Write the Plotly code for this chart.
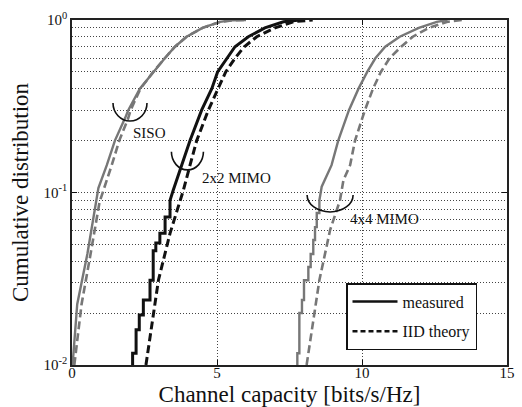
import math
import plotly.graph_objects as go

# ---------------- data ----------------
siso_meas_x = [0.02, 0.18, 0.53, 0.82, 0.91, 1.20, 1.48, 1.83, 1.94, 2.34, 2.80, 3.20, 3.55, 3.95, 4.50, 5.10, 5.50, 6.00]
siso_meas_y = [0.010, 0.0225, 0.044, 0.088, 0.106, 0.144, 0.200, 0.27, 0.30, 0.40, 0.50, 0.60, 0.70, 0.80, 0.90, 0.975, 0.995, 1.0]

siso_iid_x = [0.08, 0.33, 0.64, 0.95, 1.37, 1.63, 1.94, 2.02, 2.36, 2.80, 3.20, 3.55, 3.95, 4.50, 5.10, 5.50, 6.00]
siso_iid_y = [0.010, 0.0225, 0.044, 0.088, 0.144, 0.200, 0.27, 0.30, 0.40, 0.50, 0.60, 0.70, 0.80, 0.90, 0.975, 0.995, 1.0]

mimo2_meas_x = [2.09, 2.09, 2.21, 2.21, 2.32, 2.32, 2.46, 2.46, 2.69, 2.69, 2.80, 2.80, 2.89, 2.89,
                3.03, 3.03, 3.21, 3.21, 3.38, 3.38, 3.49, 3.78, 4.07, 4.47, 4.82, 5.02, 5.33, 5.62,
                6.08, 6.65, 7.29, 7.86]
mimo2_meas_y = [0.010, 0.0117, 0.0117, 0.016, 0.016, 0.0195, 0.0195, 0.0238, 0.0238, 0.031, 0.031, 0.046,
                0.046, 0.051, 0.051, 0.058, 0.058, 0.072, 0.072, 0.090, 0.103, 0.144, 0.200, 0.30, 0.40,
                0.50, 0.60, 0.70, 0.80, 0.90, 0.977, 1.0]

mimo2_iid_x = [2.55, 2.98, 3.38, 3.75, 3.84, 4.07, 4.30, 4.70, 5.04, 5.30, 5.62, 5.94, 6.37, 7.00, 7.63, 8.30]
mimo2_iid_y = [0.010, 0.031, 0.058, 0.090, 0.103, 0.144, 0.200, 0.30, 0.40, 0.50, 0.60, 0.70, 0.80, 0.90, 0.977, 1.0]

mimo4_meas_x = [7.77, 7.77, 7.84, 7.84, 7.93, 7.93, 8.00, 8.00, 8.15, 8.15, 8.23, 8.23, 8.32, 8.32,
                8.38, 8.38, 8.44, 8.44, 8.53, 8.53, 8.61, 8.72, 8.95, 9.18, 9.55, 9.88, 10.18, 10.46,
                10.80, 11.30, 11.96, 12.58, 12.95]
mimo4_meas_y = [0.010, 0.0117, 0.0117, 0.020, 0.020, 0.0238, 0.0238, 0.031, 0.031, 0.037, 0.037, 0.044,
                0.044, 0.053, 0.053, 0.063, 0.063, 0.076, 0.076, 0.090, 0.108, 0.118, 0.144, 0.200,
                0.30, 0.40, 0.50, 0.60, 0.70, 0.80, 0.90, 0.975, 1.0]

mimo4_iid_x = [8.09, 8.53, 8.90, 9.24, 9.36, 9.59, 9.76, 10.10, 10.38, 10.65, 10.95, 11.35, 11.75, 12.30, 12.92, 13.45]
mimo4_iid_y = [0.010, 0.031, 0.0606, 0.090, 0.118, 0.144, 0.200, 0.30, 0.40, 0.50, 0.60, 0.70, 0.80, 0.90, 0.975, 1.0]

x_ticks = [0, 5, 10, 15]
y_ticks = [0.01, 0.1, 1]
y_tick_text = ["10<sup>-2</sup>", "10<sup>-1</sup>", "10<sup>0</sup>"]
y_minor = [m * d for d in (0.01, 0.1) for m in range(2, 10)]

# callouts: label, arc centre x (data), arc top y (data), arc half width px, depth px, label x, label y
callout_labels = ["SISO", "2x2 MIMO", "4x4 MIMO"]
callout_cx = [2.0, 3.98, 8.9]
callout_top = [0.33, 0.172, 0.0968]
callout_hw = [17, 16, 23]
callout_depth = [18, 18, 17]
callout_lx = [2.66, 5.66, 10.76]
callout_ly = [0.221, 0.121, 0.0702]

# ---------------- figure ----------------
W, H = 522, 407
ML, MR, MT, MB = 72, 15, 20, 42
PW, PH = W - ML - MR, H - MT - MB
XR = [0, 15]
YR = [-2, 0]

GRAY = "#777777"
BLACK = "#111111"
SERIF = "Liberation Serif"
DASH = "8px,4px"
GRIDDASH = "1px,2px"

fig = go.Figure()

def add(x, y, color, width, dash):
    fig.add_trace(go.Scatter(x=x, y=y, mode="lines", showlegend=False,
                             line=dict(color=color, width=width, dash=dash), hoverinfo="skip"))

add(siso_iid_x, siso_iid_y, GRAY, 2.6, DASH)
add(siso_meas_x, siso_meas_y, GRAY, 2.4, "solid")
add(mimo2_iid_x, mimo2_iid_y, BLACK, 3.0, DASH)
add(mimo2_meas_x, mimo2_meas_y, BLACK, 3.0, "solid")
add(mimo4_iid_x, mimo4_iid_y, GRAY, 2.6, DASH)
add(mimo4_meas_x, mimo4_meas_y, GRAY, 2.4, "solid")

# legend-only entries
fig.add_trace(go.Scatter(x=[None], y=[None], mode="lines", name="measured", legendgroup="a",
                         line=dict(color=BLACK, width=2.5, dash="solid")))
fig.add_trace(go.Scatter(x=[None], y=[None], mode="lines", name="IID theory", legendgroup="b",
                         line=dict(color=BLACK, width=2.5, dash="5px,3px")))


def to_paper(x, y):
    return ((x - XR[0]) / (XR[1] - XR[0]), (math.log10(y) - YR[0]) / (YR[1] - YR[0]))

k = 0.5523
for lab, cx, top, hw, dp, lx, ly in zip(callout_labels, callout_cx, callout_top, callout_hw,
                                        callout_depth, callout_lx, callout_ly):
    px, py = to_paper(cx, top)
    dx = hw / PW
    dy = dp / PH
    path = (f"M {px-dx},{py} C {px-dx},{py-k*dy} {px-k*dx},{py-dy} {px},{py-dy} "
            f"C {px+k*dx},{py-dy} {px+dx},{py-k*dy} {px+dx},{py}")
    fig.add_shape(type="path", path=path, xref="paper", yref="paper",
                  line=dict(color=BLACK, width=1.6))
    ax_, ay_ = to_paper(lx, ly)
    fig.add_annotation(x=ax_, y=ay_, xref="paper", yref="paper", text=lab, showarrow=False,
                       xanchor="center", yanchor="middle",
                       font=dict(family=SERIF, size=15, color=BLACK))

fig.update_layout(
    width=W, height=H,
    margin=dict(l=ML, r=MR, t=MT, b=MB, autoexpand=False),
    paper_bgcolor="white", plot_bgcolor="white",
    font=dict(family=SERIF, color=BLACK),
    legend=dict(x=(346 - ML) / PW, y=(H - MB - 283) / PH, xanchor="left", yanchor="top",
                bgcolor="white", bordercolor=BLACK, borderwidth=1.5,
                font=dict(family=SERIF, size=16, color=BLACK),
                tracegroupgap=6, itemwidth=45),
    xaxis=dict(range=XR, tickvals=x_ticks, ticks="inside", ticklen=5, tickcolor=BLACK,
               showline=True, linecolor="#222222", linewidth=1.5, mirror="ticks",
               showgrid=True, gridcolor="#444444", griddash=GRIDDASH, gridwidth=1,
               zeroline=False, automargin=False, ticklabelstandoff=-7,
               tickfont=dict(family=SERIF, size=15, color=BLACK),
               title=dict(text="Channel capacity [bits/s/Hz]", standoff=6,
                          font=dict(family=SERIF, size=23, color=BLACK))),
    yaxis=dict(type="log", range=YR, tickvals=y_ticks, ticktext=y_tick_text,
               ticks="inside", ticklen=5, tickcolor=BLACK,
               showline=True, linecolor="#222222", linewidth=1.5, mirror="ticks",
               showgrid=True, gridcolor="#444444", griddash=GRIDDASH, gridwidth=1,
               zeroline=False, automargin=False, tickfont=dict(family=SERIF, size=15, color=BLACK),
               minor=dict(tickvals=y_minor, showgrid=True, gridcolor="#444444",
                          griddash=GRIDDASH, gridwidth=1, ticks=""),
               title=dict(text="Cumulative distribution", standoff=8,
                          font=dict(family=SERIF, size=23, color=BLACK))),
)

fig.write_html("out.html", config={"displayModeBar": False},
               post_script="document.body.style.margin='0px';")
